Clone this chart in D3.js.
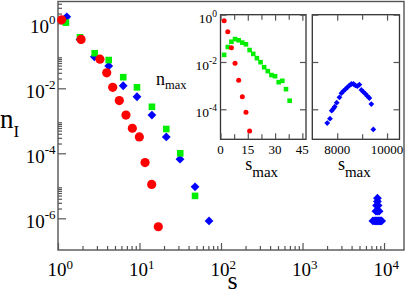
<!DOCTYPE html>
<html>
<head>
<meta charset="utf-8">
<script src="https://cdn.jsdelivr.net/npm/d3@7"></script>
<style>
body{margin:0;background:#fff;}
svg{display:block;}
text{font-family:"Liberation Serif","Times New Roman",Times,serif;}
</style>
</head>
<body>
<div id="chart"></div>
<script>
// main panel, n_I(s)
var redS = [1.11, 1.92, 3.27, 3.96, 4.69, 5.65, 6.82, 8.17, 9.95, 11.7, 14.1, 17.0];
var redN = [1.28, 0.32, 0.079, 0.030, 0.0107, 4.2e-3, 1.5e-3, 5.9e-4, 3.2e-4, 5.2e-5, 1.1e-5, 5.5e-7];
var greenS = [1.25, 1.86, 2.82, 4.19, 6.31, 9.31, 14.2, 21.3, 31.6, 48.0];
var greenN = [1.05, 0.37, 0.12, 0.074, 0.022, 0.0107, 2.7e-3, 5.6e-4, 1.0e-4, 4.9e-6];
var blueS = [1.28, 1.86, 2.79, 4.19, 6.31, 9.31, 14.2, 21.3, 31.4, 48.0, 71.3,
  7300, 7600, 7900, 8150, 8400, 8650, 8900, 9150, 9350,
  7950, 8300, 8700, 8100, 8450, 8300, 8300];
var blueN = [1.58, 0.32, 0.093, 0.049, 0.012, 5.5e-3, 1.5e-3, 3.2e-4, 6.6e-5, 9.3e-6, 8.3e-7,
  8.3e-7, 8.3e-7, 8.3e-7, 8.3e-7, 8.3e-7, 8.3e-7, 8.3e-7, 8.3e-7, 8.3e-7,
  1.66e-6, 1.66e-6, 1.66e-6, 2.5e-6, 2.5e-6, 3.3e-6, 4.15e-6];

// left inset, n_max(s_max)
var insRedS = [2, 4, 6, 8, 10, 12, 14, 16];
var insRedN = [0.56, 0.19, 0.040, 8.9e-3, 1.7e-3, 3.4e-4, 7.4e-5, 1.2e-5];
var insGreenS = [2, 4, 6, 8, 10, 12, 14, 16, 18, 20, 22, 24, 26, 28, 30, 32, 34, 36, 38];
var insGreenN = [0.020, 0.043, 0.072, 0.093, 0.083, 0.066, 0.056, 0.032, 0.022, 0.0145,
  0.0098, 0.0060, 0.0041, 0.0028, 0.0025, 0.0014, 0.0016, 7.1e-4, 2.3e-4];

// right inset
var insBlueS = [7600, 7710, 7780, 7850, 7900, 7980, 8090, 8170, 8250, 8330, 8410, 8490,
  8570, 8650, 8730, 8810, 8890, 8970, 9050, 9130, 9210, 9290, 9370, 9450];
var insBlueN = [2.6e-5, 4.0e-5, 8.7e-5, 1.07e-4, 1.29e-4, 1.9e-4, 3.2e-4, 4.8e-4, 5.9e-4,
  7.1e-4, 8.5e-4, 1.02e-3, 1.17e-3, 1.17e-3, 1.02e-3, 9.5e-4, 1.10e-3, 6.6e-4, 5.4e-4,
  4.5e-4, 3.6e-4, 3.0e-4, 1.66e-4, 1.41e-5];

var xMajor = [1, 10, 100, 1000, 10000];
var xMajorExp = ["0", "1", "2", "3", "4"];
var yMajor = [1, 1e-2, 1e-4, 1e-6];
var yMajorExp = ["0", "-2", "-4", "-6"];
var insYMajor = [1, 1e-2, 1e-4];
var insYExp = ["0", "-2", "-4"];
var ins1XTicks = [0, 15, 30, 45];
var ins1XMinor = [7.5, 22.5, 37.5];
var ins2XTicks = [8000, 10000];
var ins2XMinor = [9000];

var width = 409, height = 295;
var RED = "#ff0000", GREEN = "#00ee00", BLUE = "#0000ff", AXIS = "#555";
var FONT = "'Liberation Serif','Times New Roman',Times,serif";

var svg = d3.select("#chart").append("svg")
    .attr("width", width)
    .attr("height", height)
    .attr("font-family", FONT);

var x = d3.scaleLog().domain([1, Math.pow(10, 4.245)]).range([58, 404]);
var y = d3.scaleLog().domain([Math.pow(10, -6.975), Math.pow(10, 0.671)]).range([250, 1.5]);

// minor ticks 2..9 in each decade
function minors(decades, lo, hi){
  var out = [];
  decades.forEach(function(p){
    for(var k=2; k<=9; k++){
      var v = k*Math.pow(10, p);
      if(v > lo && v < hi) out.push(v);
    }
  });
  return out;
}

function tickAxis(g, axis, tr){
  g.append("g").attr("transform", tr).call(axis)
    .call(function(a){ a.select(".domain").remove(); })
    .call(function(a){ a.selectAll(".tick line").attr("stroke", AXIS).attr("stroke-width", 1.2); })
    .call(function(a){ a.selectAll(".tick text").remove(); });
}

function powLabel(g, px, py, exp, size, supSize, supDy, anchor){
  var t = g.append("text")
      .attr("x", px).attr("y", py)
      .attr("text-anchor", anchor)
      .attr("font-family", FONT)
      .attr("fill", "#000");
  t.append("tspan").attr("font-size", size).text("10");
  t.append("tspan").attr("font-size", supSize).attr("dy", -supDy).text(exp);
  return t;
}

// ---- main panel ----
var main = svg.append("g");
main.append("rect")
    .attr("x", 58).attr("y", 1.5)
    .attr("width", 404-58).attr("height", 250-1.5)
    .attr("fill", "none").attr("stroke", AXIS).attr("stroke-width", 1.4);

tickAxis(main, d3.axisBottom(x).tickValues(xMajor).tickSize(-7), "translate(0,250)");
tickAxis(main, d3.axisBottom(x).tickValues(minors([0,1,2,3,4], 1, x.domain()[1])).tickSize(-4), "translate(0,250)");
tickAxis(main, d3.axisLeft(y).tickValues(yMajor).tickSize(-8), "translate(58,0)");
tickAxis(main, d3.axisLeft(y).tickValues(minors([0,-2,-4,-6], y.domain()[0], y.domain()[1])).tickSize(-4), "translate(58,0)");

xMajor.forEach(function(v, i){
  powLabel(main, x(v) - 10.5, 276, xMajorExp[i], 19, 13, 7, "start");
});
yMajor.forEach(function(v, i){
  powLabel(main, 55.5, y(v) + 9.5, yMajorExp[i], 19, 13, 8.5, "end");
});

main.append("text").attr("x", 232.5).attr("y", 289).attr("text-anchor", "middle")
    .attr("font-family", FONT).attr("font-size", 26).text("s");
var yt = main.append("text").attr("x", 0).attr("y", 128)
    .attr("font-family", FONT).attr("font-size", 27);
yt.append("tspan").text("n");
yt.append("tspan").attr("font-size", 17).attr("dy", 8.5).text("I");

function diamond(h){ return "M0," + (-h) + "L" + h + ",0L0," + h + "L" + (-h) + ",0Z"; }

function drawDiamonds(g, sx, sy, xs, ys, h){
  g.append("g").selectAll("path")
    .data(xs.map(function(d, i){ return [d, ys[i]]; }))
    .join("path")
      .attr("d", diamond(h))
      .attr("fill", BLUE)
      .attr("transform", function(d){ return "translate(" + sx(d[0]) + "," + sy(d[1]) + ")"; });
}
function drawSquares(g, sx, sy, xs, ys, a){
  g.append("g").selectAll("rect")
    .data(xs.map(function(d, i){ return [d, ys[i]]; }))
    .join("rect")
      .attr("x", function(d){ return sx(d[0]) - a/2; })
      .attr("y", function(d){ return sy(d[1]) - a/2; })
      .attr("width", a).attr("height", a)
      .attr("fill", GREEN);
}
function drawCircles(g, sx, sy, xs, ys, r){
  g.append("g").selectAll("circle")
    .data(xs.map(function(d, i){ return [d, ys[i]]; }))
    .join("circle")
      .attr("cx", function(d){ return sx(d[0]); })
      .attr("cy", function(d){ return sy(d[1]); })
      .attr("r", r)
      .attr("fill", RED);
}

drawDiamonds(main, x, y, blueS, blueN, 4.4);
drawSquares(main, x, y, greenS, greenN, 6.6);
drawCircles(main, x, y, redS, redN, 4.6);

main.append("text").attr("x", 156).attr("y", 85).attr("font-family", FONT).attr("font-size", 18)
  .call(function(t){
    t.append("tspan").text("n");
    t.append("tspan").attr("font-size", 12.5).attr("dy", 4).text("max");
  });

// ---- insets ----
var iy = d3.scaleLog().domain([Math.pow(10, -5.27), 1]).range([139.3, 14.7]);
var ix1 = d3.scaleLinear().domain([0, 47]).range([220.5, 306]);
var ix2 = d3.scaleLinear().domain([7000, 10500]).range([312.3, 399.5]);

function insetFrame(sx, majors, minorTicks, yLabels){
  var g = svg.append("g");
  var r = sx.range();
  g.append("rect")
    .attr("x", r[0]).attr("y", 14.7)
    .attr("width", r[1]-r[0]).attr("height", 139.3-14.7)
    .attr("fill", "#fff").attr("stroke", "#333").attr("stroke-width", 1.3);
  tickAxis(g, d3.axisBottom(sx).tickValues(majors).tickSize(-6), "translate(0,139.3)");
  tickAxis(g, d3.axisTop(sx).tickValues(majors).tickSize(-6), "translate(0,14.7)");
  tickAxis(g, d3.axisBottom(sx).tickValues(minorTicks).tickSize(-5), "translate(0,139.3)");
  tickAxis(g, d3.axisTop(sx).tickValues(minorTicks).tickSize(-5), "translate(0,14.7)");
  tickAxis(g, d3.axisLeft(iy).tickValues(insYMajor).tickSize(-6), "translate(" + r[0] + ",0)");
  tickAxis(g, d3.axisRight(iy).tickValues(insYMajor).tickSize(-6), "translate(" + r[1] + ",0)");
  majors.forEach(function(v){
    g.append("text").attr("x", sx(v)).attr("y", 154).attr("text-anchor", "middle")
      .attr("font-family", FONT).attr("font-size", 13).text(v);
  });
  if(yLabels){
    insYMajor.forEach(function(v, i){
      powLabel(g, 217, iy(v) + 8, insYExp[i], 13.5, 9.5, 6, "end");
    });
  }
  var lab = g.append("text").attr("x", (r[0]+r[1])/2 - 18).attr("y", 169.5)
      .attr("font-family", FONT).attr("font-size", 18);
  lab.append("tspan").text("s");
  lab.append("tspan").attr("font-size", 15).attr("dy", 7.5).text("max");
  return g;
}

var in1 = insetFrame(ix1, ins1XTicks, ins1XMinor, true);
drawSquares(in1, ix1, iy, insGreenS, insGreenN, 4.6);
drawCircles(in1, ix1, iy, insRedS, insRedN, 2.5);

var in2 = insetFrame(ix2, ins2XTicks, ins2XMinor, false);
drawDiamonds(in2, ix2, iy, insBlueS, insBlueN, 2.9);
</script>
</body>
</html>
